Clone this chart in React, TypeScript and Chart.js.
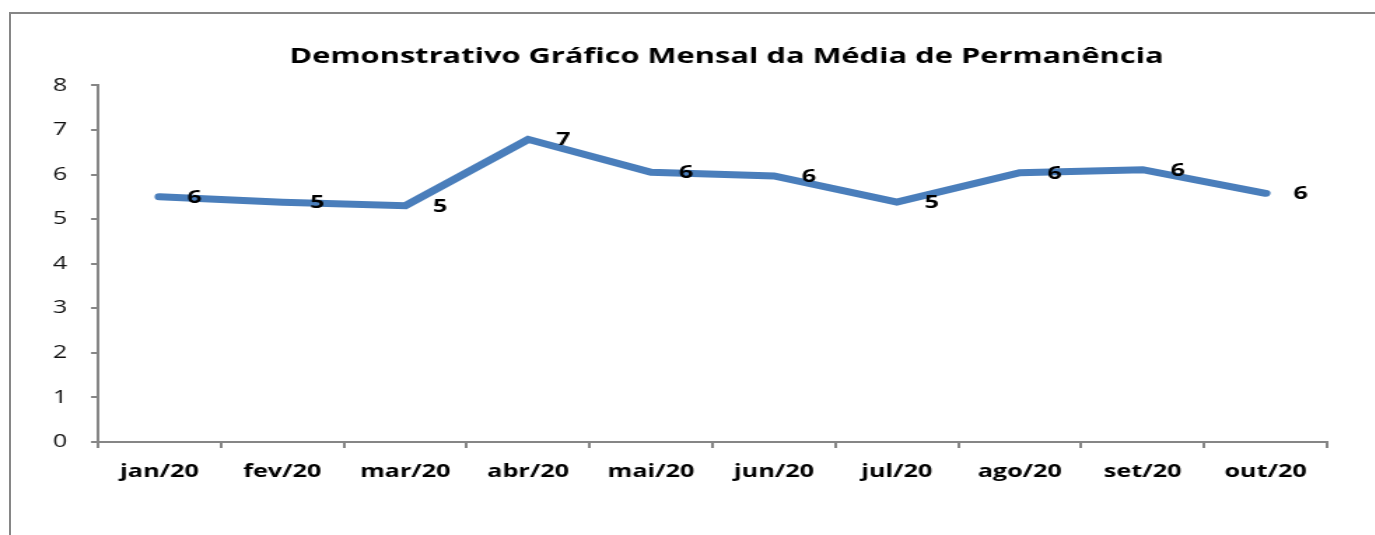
import React, { useEffect, useRef } from "react";
import { Chart, registerables } from "chart.js";

Chart.register(...registerables);

const TITLE = "Demonstrativo Gráfico Mensal da Média de Permanência";
const MONTHS = ["jan/20", "fev/20", "mar/20", "abr/20", "mai/20", "jun/20", "jul/20", "ago/20", "set/20", "out/20"];
const MEDIA = [5.5, 5.38, 5.3, 6.79, 6.05, 5.97, 5.38, 6.04, 6.11, 5.58];
const Y_MIN = 0;
const Y_MAX = 8;

const FONT = "'Open Sans', 'DejaVu Sans', sans-serif";
const AXIS_GRAY = "#868686";
const LINE_BLUE = "#4A7EBB";

// the reference picture is stretched horizontally; draw at a narrower logical width and stretch with CSS
const STRETCH = 1.4;
const LOGICAL_W = 1038;
const LOGICAL_H = 535;

const dataLabelPlugin = {
  id: "dataLabels",
  afterDatasetsDraw(chart: any) {
    const ctx = chart.ctx;
    const meta = chart.getDatasetMeta(0);
    const ds = chart.data.datasets[0];
    ctx.save();
    ctx.font = `bold 18px ${FONT}`;
    ctx.fillStyle = "#000";
    ctx.textAlign = "center";
    ctx.textBaseline = "middle";
    meta.data.forEach((pt: any, i: number) => {
      ctx.fillText(String(Math.round(ds.data[i])), pt.x + 25, pt.y + 1);
    });
    ctx.restore();
  },
};

export default function App() {
  const ref = useRef<HTMLCanvasElement>(null);
  useEffect(() => {
    if (!ref.current) return;
    const chart = new Chart(ref.current, {
      type: "line",
      data: {
        labels: MONTHS,
        datasets: [
          {
            data: MEDIA,
            borderColor: LINE_BLUE,
            backgroundColor: LINE_BLUE,
            borderWidth: 7,
            borderCapStyle: "round",
            borderJoinStyle: "miter",
            pointRadius: 0,
            pointHoverRadius: 0,
            tension: 0,
            yAxisID: "y",
          },
        ],
      },
      options: {
        animation: false,
        responsive: false,
        maintainAspectRatio: false,
        events: [],
        layout: { padding: 0 },
        plugins: {
          legend: { display: false },
          tooltip: { enabled: false },
          title: {
            display: true,
            text: TITLE,
            color: "#000",
            font: { family: FONT, size: 22, weight: "bold" },
            padding: { top: 44, bottom: 15 },
          },
        },
        scales: {
          x: {
            type: "category",
            offset: true,
            grid: {
              offset: true,
              drawOnChartArea: false,
              drawTicks: true,
              tickLength: 6,
              color: AXIS_GRAY,
              lineWidth: 2,
            },
            border: { display: true, color: AXIS_GRAY, width: 2 },
            ticks: {
              color: "#000",
              font: { family: FONT, size: 18, weight: "bold" },
              padding: 13,
              maxRotation: 0,
              autoSkip: false,
            },
            afterFit(scale: any) {
              scale.height = 93;
            },
          },
          y: {
            type: "linear",
            position: "left",
            min: Y_MIN,
            max: Y_MAX,
            grid: {
              drawOnChartArea: false,
              drawTicks: true,
              tickLength: 5,
              color: AXIS_GRAY,
              lineWidth: 2,
            },
            border: { display: true, color: AXIS_GRAY, width: 2 },
            ticks: {
              stepSize: 1,
              color: "#111",
              font: { family: FONT, size: 18 },
              padding: 17,
            },
            afterFit(scale: any) {
              scale.width = 70;
            },
          },
          yRight: {
            type: "linear",
            position: "right",
            display: true,
            min: Y_MIN,
            max: Y_MAX,
            grid: { display: false, drawTicks: false },
            border: { display: false },
            ticks: { display: false },
            afterFit(scale: any) {
              scale.width = 90;
            },
          },
        },
      },
      plugins: [dataLabelPlugin],
    } as any);
    return () => chart.destroy();
  }, []);

  return (
    <div
      style={{
        position: "fixed",
        left: 0,
        top: 0,
        width: 1375,
        height: 535,
        overflow: "hidden",
        background: "#fff",
      }}
    >
      <div
        style={{
          position: "absolute",
          left: 9,
          top: 12,
          width: 1400,
          height: 600,
          borderLeft: `2px solid ${AXIS_GRAY}`,
          borderTop: `2px solid ${AXIS_GRAY}`,
        }}
      />
      <canvas
        ref={ref}
        width={LOGICAL_W}
        height={LOGICAL_H}
        style={{
          position: "absolute",
          left: 0,
          top: 0,
          width: LOGICAL_W * STRETCH,
          height: LOGICAL_H,
        }}
      />
    </div>
  );
}
